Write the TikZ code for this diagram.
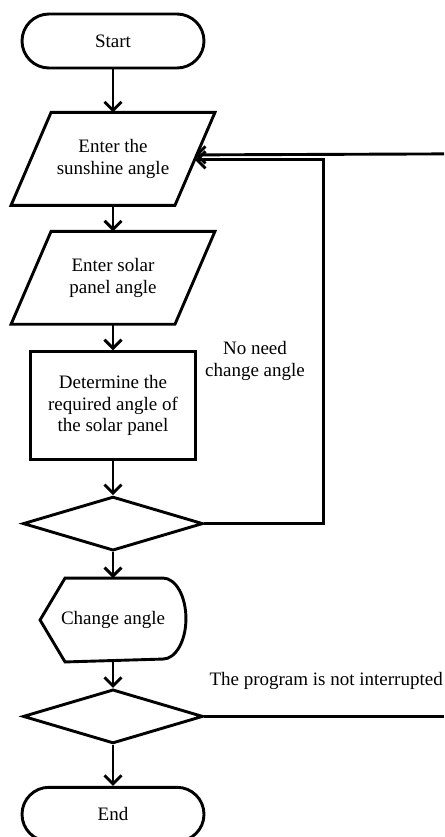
\documentclass[tikz,border=0pt]{standalone}
\usepackage{fontspec}
\setmainfont{Liberation Serif}
\usetikzlibrary{arrows.meta, positioning, shapes.geometric}

\begin{document}
\begin{tikzpicture}[
    x=1pt, y=1pt,
    base/.style={draw, line width=2.9pt, align=center, inner sep=2pt,
                 font=\fontsize{19}{21.5}\selectfont},
    term/.style={base, rounded corners=27pt, minimum width=182pt,
                 minimum height=54pt},
    io/.style={base, draw=none, minimum width=161pt, minimum height=90pt},
    proc/.style={base, minimum width=165pt, minimum height=108pt},
    dec/.style={base, diamond, aspect=3.4, minimum width=180pt,
                minimum height=54pt, inner sep=0pt},
    disp/.style={base, draw=none, minimum width=143pt, minimum height=81pt},
    outline/.style={line width=2.9pt},
    arr/.style={->, >={Straight Barb[length=8.5pt,width=17pt]}, line width=2.9pt},
    lbl/.style={font=\fontsize{19}{21.5}\selectfont, align=center},
    node distance=26pt
  ]
  \useasboundingbox (0,0) rectangle (444,-837);

  \node[term] (start) at (113,-41) {Start};
  \node[io, below=43pt of start] (sun) {Enter the\\sunshine angle};
  \node[io, below=of sun] (solar) {Enter solar\\panel angle};
  \node[proc, below=of solar] (det) {Determine the\\required angle of\\the solar panel};
  \node[dec, below=34pt of det] (chk1) {};
  \node[disp, below=of chk1] (chg) {Change angle};
  \node[dec, below=of chg] (chk2) {};
  \node[term, below=41pt of chk2] (end) {End};

  % input boxes: slanted outlines
  \foreach \n in {sun, solar}
    \draw[outline] ([xshift=20pt]\n.north west) -- ([xshift=20pt]\n.north east)
      -- ([xshift=-20pt]\n.south east) -- ([xshift=-20pt]\n.south west) -- cycle;

  % display shape: pointed left side, round right side
  \draw[outline] (chg.west) -- ([xshift=25pt]chg.north west)
    -- ([xshift=-23pt]chg.north east)
    arc[start angle=90, end angle=-90, x radius=23pt, y radius=40.5pt]
    -- ([xshift=25pt]chg.south west) -- cycle;

  \node[lbl] (noneed) at (255,-361) {No need\\change angle};
  \node[lbl, anchor=west] (notint) at (206,-681) {The program is not interrupted};

  \draw[arr] (start) -- (sun);
  \draw[arr] (sun) -- (solar);
  \draw[arr] (solar) -- (det);
  \draw[arr] (det) -- (chk1);
  \draw[arr] (chk1) -- (chg);
  \draw[arr] (chg) -- (chk2);
  \draw[arr] (chk2) -- (end);

  % loops leaving the page on the right
  \coordinate (rim) at (444,0);
  \draw[arr] (chk1.east) -- ++(119,0) |- ([yshift=-1pt]sun.east);
  \draw[arr] ([yshift=5pt]sun.east -| rim) -- ([yshift=4pt]sun.east);
  \draw[outline] (chk2.east) -- (chk2.east -| rim);
\end{tikzpicture}
\end{document}
